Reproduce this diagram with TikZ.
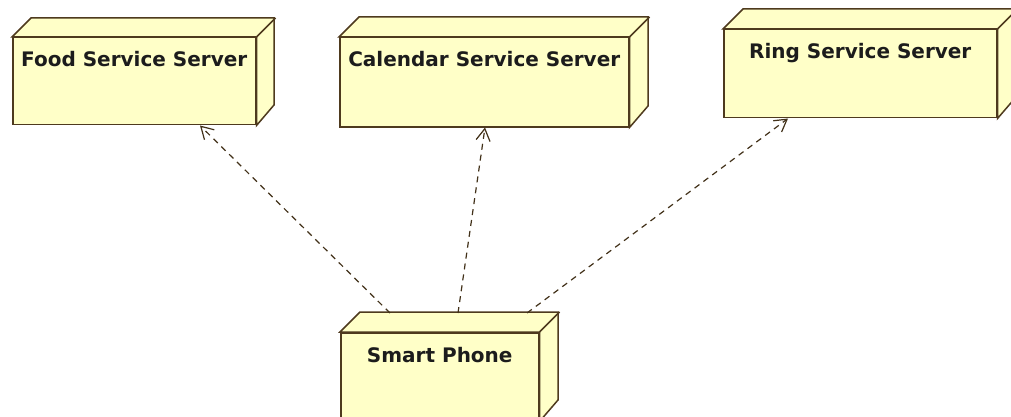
\documentclass[tikz,border=0pt]{standalone}
\usepackage{fontspec}
\setmainfont{DejaVu Sans}
\usetikzlibrary{arrows.meta,calc}
\definecolor{nodefill}{HTML}{FFFFC8}
\definecolor{nodeline}{HTML}{4E3A1E}
\definecolor{labeltext}{HTML}{1C1C1C}
\tikzset{
  x=1pt, y=-1pt,
  face/.style={draw=nodeline, fill=nodefill, line width=1.5pt, line join=miter},
  devicebox/.style={face, rectangle, inner sep=0pt, anchor=north west},
  devicelabel/.style={anchor=base, inner sep=0pt, text=labeltext,
    font=\bfseries\fontsize{20}{24}\selectfont},
  depends/.style={draw=nodeline!85!black, line width=1.2pt,
    dash pattern=on 6pt off 5pt,
    -{Straight Barb[length=12pt,width=14pt,line width=1.2pt]}},
}
% front face, then top and side faces of a 3-D node
\newcommand{\devicenode}[6]{%
  \node[devicebox, minimum width=#3, minimum height=#4] (#1) at (#2) {};
  \draw[face] (#1.north west) -- ++(#5,-#5) -- ++(#3,0) -- ++(0,#4) -- ($(#1.south east)$)
    -- (#1.north east) -- cycle;
  \draw[face] (#1.north east) -- ++(#5,-#5);
  \node[devicelabel] at ($(#1.north)+(0,30)$) {#6};
}
\begin{document}
\begin{tikzpicture}
\useasboundingbox (0,0) rectangle (1011,417);
\clip (0,0) rectangle (1011,417);
\fill[white] (0,0) rectangle (1011,417);

\devicenode{food}{12,37}{243}{87}{19}{Food Service Server}
\devicenode{calendar}{339,37}{289}{89}{20}{Calendar Service Server}
\devicenode{ring}{723,29}{273}{88}{20}{Ring Service Server}
\devicenode{phone}{340,332}{198}{88}{20}{Smart Phone}

% connector ends on the phone's top edge and the servers' bottom edges
\coordinate (fromfood) at ($(phone.north west)+(50,-19)$);
\coordinate (fromcal) at ($(phone.north west)+(118,-19)$);
\coordinate (fromring) at ($(phone.north west)+(187,-19)$);
\coordinate (tofood) at ($(food.south west)+(188,0)$);
\coordinate (tocal) at ($(calendar.south west)+(146,0)$);
\coordinate (toring) at ($(ring.south west)+(65,0)$);

\draw[depends] (fromfood) -- (tofood);
\draw[depends] (fromcal) -- (tocal);
\draw[depends] (fromring) -- (toring);
\end{tikzpicture}
\end{document}
